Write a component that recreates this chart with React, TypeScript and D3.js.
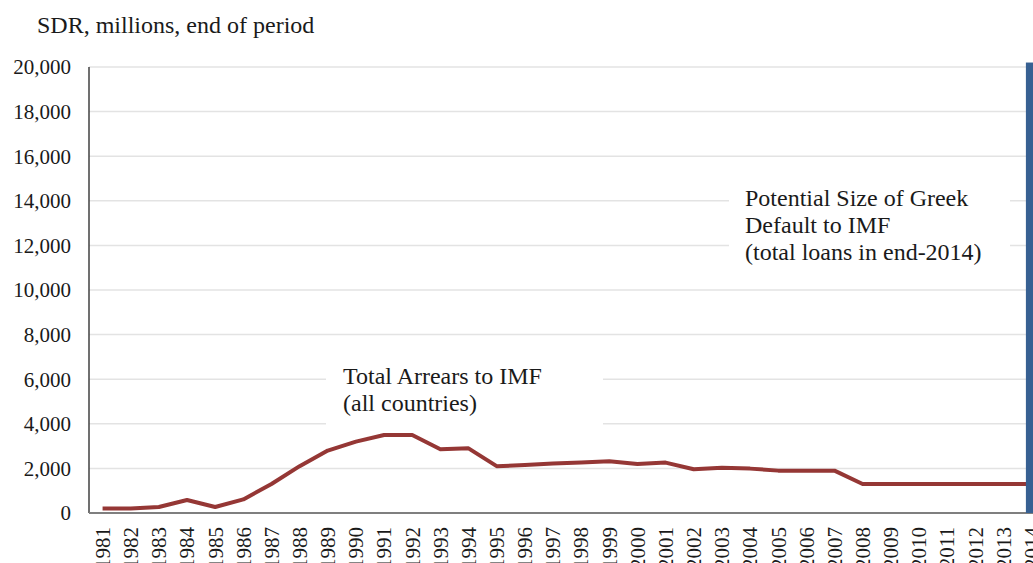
import * as d3 from "d3";

const years: string[] = d3.range(1981, 2015).map(String);

// total arrears to IMF, SDR millions
const arrears: number[] = [
  200, 200, 270, 580, 270, 610, 1300, 2100, 2800, 3200,
  3500, 3500, 2860, 2900, 2100, 2150, 2220, 2270, 2320, 2200,
  2260, 1960, 2030, 1990, 1900, 1900, 1900, 1300, 1300, 1300,
  1300, 1300, 1300, 1300,
];

// Greek loans end-2014
const greekYear = "2014";
const greekLoans = 20200;

const yTicks: number[] = d3.range(0, 20001, 2000);

const arrearsLabel = ["Total Arrears to IMF", "(all countries)"];
const greekLabel = ["Potential Size of Greek", "Default to IMF", "(total loans in end-2014)"];

export default function App() {
  const W = 1033;
  const H = 563;
  const left = 89;
  const top = 67;
  const bottom = 513;
  const band = 28.15;
  const font = "'Liberation Serif', 'Times New Roman', serif";

  const x = d3
    .scaleBand<string>()
    .domain(years)
    .range([left - 0.5, left - 0.5 + band * years.length])
    .padding(0);
  const cx = (yr: string) => x(yr)! + x.bandwidth() / 2;

  const y = d3.scaleLinear().domain([0, 20000]).range([bottom, top]);

  const line = d3
    .line<number>()
    .x((_, i) => cx(years[i]))
    .y((d) => y(d));

  const fmt = d3.format(",");
  const barW = x.bandwidth() * 0.4;
  const rightEdge = x.range()[1];

  return (
    <svg
      width={W}
      height={H}
      style={{ position: "absolute", left: 0, top: 0, background: "white" }}
      fontFamily={font}
    >
      {/* gridlines */}
      {yTicks
        .filter((t) => t > 0)
        .map((t) => (
          <line
            key={t}
            x1={left}
            x2={rightEdge}
            y1={y(t)}
            y2={y(t)}
            stroke="#e3e3e3"
            strokeWidth={1.5}
          />
        ))}

      {/* white boxes behind annotations */}
      <rect x={326} y={360} width={277} height={72} fill="white" />
      <rect x={729} y={178} width={281} height={96} fill="white" />

      {/* y tick labels */}
      {yTicks.map((t) => (
        <text
          key={t}
          x={71}
          y={y(t)}
          dy="0.35em"
          textAnchor="end"
          fontSize={21}
          fill="#1a1a1a"
        >
          {fmt(t)}
        </text>
      ))}

      {/* axes */}
      <line x1={left} x2={left} y1={top} y2={bottom} stroke="#404040" strokeWidth={1.5} />
      <line x1={left} x2={rightEdge} y1={bottom} y2={bottom} stroke="#7f7f7f" strokeWidth={2} />

      {/* arrears line */}
      <path
        d={line(arrears)!}
        fill="none"
        stroke="#953735"
        strokeWidth={4}
        strokeLinejoin="round"
      />

      {/* Greek loans bar */}
      <rect
        x={cx(greekYear) - barW / 2}
        y={y(greekLoans)}
        width={barW}
        height={bottom - y(greekLoans)}
        fill="#376092"
      />

      {/* x tick labels */}
      {years.map((yr) => (
        <text
          key={yr}
          transform={`translate(${cx(yr)},${527}) rotate(-90)`}
          dy="0.35em"
          textAnchor="end"
          fontSize={21}
          fill="#1a1a1a"
        >
          {yr}
        </text>
      ))}

      {/* title */}
      <text x={37} y={33} fontSize={24} fill="#1a1a1a">
        SDR, millions, end of period
      </text>

      {/* annotations */}
      {arrearsLabel.map((s, i) => (
        <text key={s} x={343} y={384 + i * 27} fontSize={24} fill="#1a1a1a">
          {s}
        </text>
      ))}
      {greekLabel.map((s, i) => (
        <text key={s} x={745} y={206 + i * 27} fontSize={24} fill="#1a1a1a">
          {s}
        </text>
      ))}
    </svg>
  );
}
